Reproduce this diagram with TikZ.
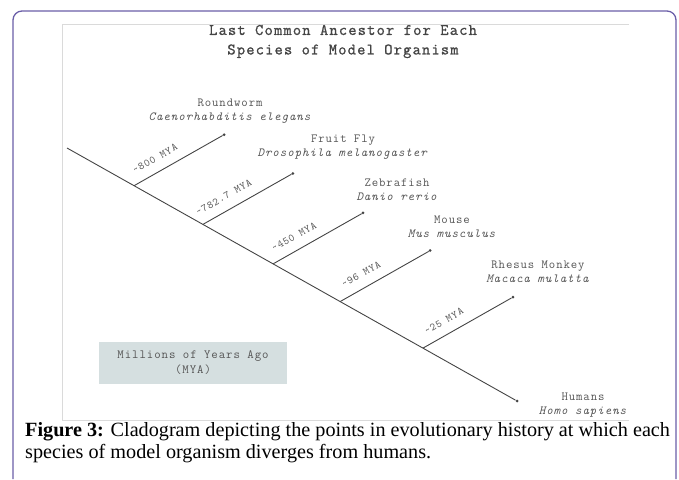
\documentclass[tikz,border=0pt]{standalone}
\usepackage{fontspec}
\setmainfont{Liberation Serif}
\setmonofont{Latin Modern Mono}[LetterSpace=7.5]
\newfontfamily\titlemono{Latin Modern Mono}[LetterSpace=7.5, FakeBold=1.2]
\usetikzlibrary{positioning,calc}
\definecolor{framepurple}{HTML}{6A5EA8}
\definecolor{figgrey}{HTML}{DADADA}
\definecolor{inkgrey}{HTML}{444444}
\definecolor{txtgrey}{HTML}{555555}
\definecolor{keyfill}{HTML}{D5DFE0}
\tikzset{
  branch/.style={draw=inkgrey, line width=0.9pt},
  tipdot/.style={circle, fill=inkgrey, inner sep=0pt, minimum size=3pt},
  species/.style={align=center, text=txtgrey, inner sep=0pt,
    font=\fontsize{12.4}{14}\selectfont\ttfamily},
  myalabel/.style={text=txtgrey, inner sep=0pt, sloped, above=9.5pt,
    font=\fontsize{10.7}{12}\selectfont\ttfamily},
  keybox/.style={fill=keyfill, text=txtgrey, align=center,
    minimum width=188pt, minimum height=42pt, inner sep=0pt,
    font=\fontsize{12.5}{15}\selectfont\ttfamily},
  caption/.style={anchor=base west, inner sep=0pt,
    font=\fontsize{20.2}{24}\selectfont}
}

\begin{document}
\begin{tikzpicture}[x=1pt, y=-1pt]
  \useasboundingbox (0,0) rectangle (679,479);

  % frame and figure area
  \draw [framepurple, line width=1.3pt, rounded corners=9pt] (13,479) |- (676,11) -- (676,479);
  \draw [figgrey, line width=1pt] (629,24) -- (62,24) -- (62,420) -- (629,420);

  \node (title) [text=inkgrey, align=center, font=\fontsize{16}{19.5}\selectfont\titlemono]
    at (343,41.5) {Last Common Ancestor for Each\\Species of Model Organism};

  % main stem
  \coordinate (root) at (67,148);
  \node (humans) [tipdot] at (517,401) {};
  \draw [branch] (root) -- (humans);

  % side branches
  \foreach \t/\tipname/\mya in {0.149/worm/800, 0.302/fly/782.7, 0.458/zebra/450, 0.607/mouse/96, 0.791/monkey/25} {
    \coordinate (b\tipname) at ($(root)!\t!(humans.center)$);
    \node (\tipname) [tipdot] at ($(b\tipname)+(90,-51)$) {};
    \draw [branch] (b\tipname) -- node [myalabel, pos=0.31] {\textasciitilde\mya{} MYA} (\tipname);
  }

  \node (wormtxt) [species] at (230,111) {Roundworm\\\textit{Caenorhabditis elegans}};
  \node (flytxt) [species] at (343,147) {Fruit Fly\\\textit{Drosophila melanogaster}};
  \node (zebratxt) [species] at (397,190) {Zebrafish\\\textit{Danio rerio}};
  \node (mousetxt) [species] at (452,227) {Mouse\\\textit{Mus musculus}};
  \node (monkeytxt) [species] at (538,272) {Rhesus Monkey\\\textit{Macaca mulatta}};
  \node (humantxt) [species] at (583,405) {Humans\\\textit{Homo sapiens}};

  \node (key) [keybox] at (193,363) {Millions of Years Ago\\(MYA)};

  \node (cap1) [caption] at (25,436) {\textbf{Figure 3:} Cladogram depicting the points in evolutionary history at which each};
  \node (cap2) [caption] at (25,458) {species of model organism diverges from humans.};
\end{tikzpicture}
\end{document}
